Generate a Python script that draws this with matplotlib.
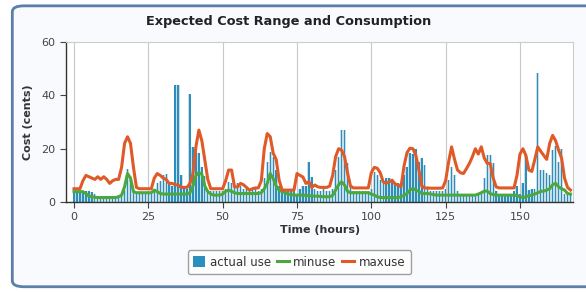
import numpy as np
import matplotlib
matplotlib.use("Agg")
from matplotlib import pyplot as plt
from matplotlib.patches import FancyBboxPatch

# hourly values (cents)
hours = np.arange(168)

actual_use = [
    4, 4, 4, 4, 4, 4, 3.9, 3, 2, 2, 2, 2,
    2, 2, 2, 2, 3.2, 4.5, 12.5, 8.5, 4, 3.5, 3.5, 3.5,
    3.5, 3.5, 3.5, 4.5, 7, 8, 10, 10.7, 7, 6, 44, 44,
    10, 6, 5, 40.5, 20.7, 20, 18.3, 13, 9.6, 4, 4, 4,
    4, 4, 4, 5, 7.6, 7, 6, 7, 6, 5, 5, 4,
    4.5, 5, 4, 5, 9, 15, 18.9, 17, 12, 6, 4, 4,
    4, 4, 4, 3, 5, 6, 6, 15, 9.5, 5, 4, 4,
    5, 4, 4, 5, 12, 17, 27, 27, 14.5, 6, 4, 4,
    4, 4, 4, 4, 5, 11.4, 10, 8.2, 8, 9, 9, 8,
    7, 7, 7, 10, 13, 18.3, 18, 20, 15, 16.4, 14, 5,
    4, 4, 4, 4, 4, 5, 8.2, 13.2, 10, 4, 3, 3,
    3, 3, 3, 3, 3, 3, 9, 17.6, 17.6, 14.5, 4, 3,
    3, 3, 3, 3, 4, 6, 3, 7, 17.6, 4.5, 5, 5,
    48.4, 12, 12, 11, 10, 19.5, 21, 15, 20, 3, 3, 3,
]

minuse = [
    3.9, 3.9, 3.9, 3.9, 3.2, 2.2, 2, 1.8, 1.7, 1.7, 1.7, 1.7,
    1.7, 1.7, 1.7, 2, 2.6, 5.7, 10.7, 9, 3.9, 3.5, 3.5, 3.5,
    3.5, 3.5, 3.5, 4.5, 3.9, 3.2, 3, 3, 3, 3, 3, 3,
    3, 3, 3, 3.5, 6, 10, 11, 10.5, 6, 3.9, 3, 2.6,
    2.6, 2.6, 3, 4, 4.5, 4, 3.5, 3.2, 3.2, 3.2, 3.2, 3.2,
    3.2, 3.2, 3.2, 3.5, 5, 7, 10.7, 8.8, 6, 4.5, 3.9, 3.5,
    3, 2.8, 2.6, 2.6, 2.6, 2.6, 2.5, 2.4, 2.3, 2.2, 2.2, 2.1,
    2, 2, 2, 2.5, 4.5, 6.5, 7.6, 6.4, 4, 3.5, 3.5, 3.5,
    3.5, 3.5, 3.5, 3.5, 3, 2.6, 2, 1.7, 1.7, 1.7, 1.7, 1.7,
    1.7, 1.7, 2, 2.5, 3.2, 4.5, 5.1, 4.5, 4, 3.2, 3.2, 3.2,
    3, 2.8, 2.6, 2.6, 2.6, 2.6, 2.6, 2.6, 2.6, 2.6, 2.6, 2.6,
    2.6, 2.6, 2.6, 2.6, 3, 3.5, 4.1, 4.1, 3.2, 2.8, 2.6, 2.6,
    2.6, 2.6, 2.6, 2.6, 2.6, 2.4, 2, 1.7, 2, 2.4, 2.6, 3,
    3.5, 4, 4.1, 4.5, 5, 6.5, 7, 5.7, 5, 4.5, 3.2, 3,
]

maxuse = [
    5, 5, 5, 8, 10, 9.5, 9, 8.5, 9.5, 8.5, 9.5, 8.5,
    7, 8, 8.5, 8.5, 13, 22, 24.5, 22, 13, 5.5, 5, 5,
    5, 5, 5, 9, 10.7, 10, 9, 8.5, 7, 7, 6.5, 6.4,
    5.5, 5.5, 5.5, 7, 10.7, 20.7, 27, 23, 15.7, 8.5, 5, 5,
    5, 5, 5, 8, 12, 12, 5.7, 5.7, 7, 6.5, 5.5, 4.5,
    5, 5.3, 5.3, 8, 20, 25.7, 24.5, 18.3, 16, 8.2, 4.5, 4.5,
    4.5, 4.5, 4.5, 10.7, 10, 9.4, 7, 7.6, 5.5, 6.4, 5.7, 5.5,
    5.5, 5.5, 6, 10, 17, 20, 19.5, 17, 11, 6, 5.3, 5.3,
    5.3, 5.3, 5.3, 5.3, 11, 13, 12.7, 11, 7.6, 7, 7.6, 8.2,
    6.8, 6.4, 5.7, 13.5, 18.5, 20.2, 20, 17.5, 12, 6, 5.3, 5.3,
    5.2, 5.2, 5.2, 5.2, 5.3, 8, 15, 20.7, 16, 12, 11, 10.7,
    12.5, 14.5, 17, 20, 18, 20.7, 16.5, 14.5, 14.5, 9, 5.7, 5.3,
    5.3, 5.3, 5.3, 5.3, 5.3, 10, 18, 20, 17.5, 12, 11.5, 16,
    20.7, 19, 17.5, 16, 22, 25, 23, 19.5, 16.5, 9, 5.5, 4.5,
]

x_ticks = [0, 25, 50, 75, 100, 125, 150]
y_ticks = [0, 20, 40, 60]

fig = plt.figure(figsize=(5.86, 2.92), dpi=100)
fig.patch.set_facecolor("white")

# rounded frame around the whole chart (right edge runs off the image)
frame = FancyBboxPatch((0.021, 0.018), 1.05, 0.962,
                       boxstyle="round,pad=0,rounding_size=0.02",
                       transform=fig.transFigure, facecolor="#f8fafd",
                       edgecolor="#5b7fa9", linewidth=2.0, zorder=-10)
fig.patches.append(frame)

ax = fig.add_axes([0.1126, 0.308, 0.866, 0.548])
ax.set_facecolor("white")

# pale halo behind each bar, like the blurred bars of the original
ax.bar(hours, actual_use, width=1.0, color="#c9dde6", edgecolor="none",
       zorder=1.5)
ax.bar(hours, actual_use, width=0.45, color="#2a8fbd", edgecolor="none",
       zorder=2, label="actual use")
ax.plot(hours, minuse, color="#4aa83c", lw=2.2, zorder=3, label="minuse")
ax.plot(hours, maxuse, color="#e05a28", lw=2.2, zorder=4, label="maxuse")

ax.set_xlim(-2.7, 168)
ax.set_ylim(0, 60)
ax.set_xticks(x_ticks)
ax.set_yticks(y_ticks)
ax.grid(axis="x", color="#c8c8c8", lw=0.8, zorder=1)
ax.tick_params(labelsize=8, colors="#444444", length=4, width=0.8)

for s in ["top", "right"]:
    ax.spines[s].set_color("#cccccc")
for s in ["left", "bottom"]:
    ax.spines[s].set_color("#333333")
    ax.spines[s].set_linewidth(1)

fig.text(0.492, 0.928, "Expected Cost Range and Consumption", fontsize=9.3,
         fontweight="bold", color="#222222", ha="center", va="center")
ax.set_xlabel("Time (hours)", fontsize=8, fontweight="bold",
              color="#333333", labelpad=2)
ax.set_ylabel("Cost (cents)", fontsize=8, fontweight="bold",
              color="#333333", labelpad=6)

handles, labels = ax.get_legend_handles_labels()
order = [labels.index("actual use"), labels.index("minuse"), labels.index("maxuse")]
leg = ax.legend([handles[i] for i in order], [labels[i] for i in order],
                loc="upper center", bbox_to_anchor=(0.46, -0.265), ncol=3,
                fontsize=8.5, frameon=True, fancybox=True,
                handlelength=1.0, handleheight=1.0, handletextpad=0.4,
                columnspacing=0.5, borderpad=0.45, edgecolor="#888888")
for t in leg.get_texts():
    t.set_color("#333333")

fig.savefig("out.png", dpi=100)
